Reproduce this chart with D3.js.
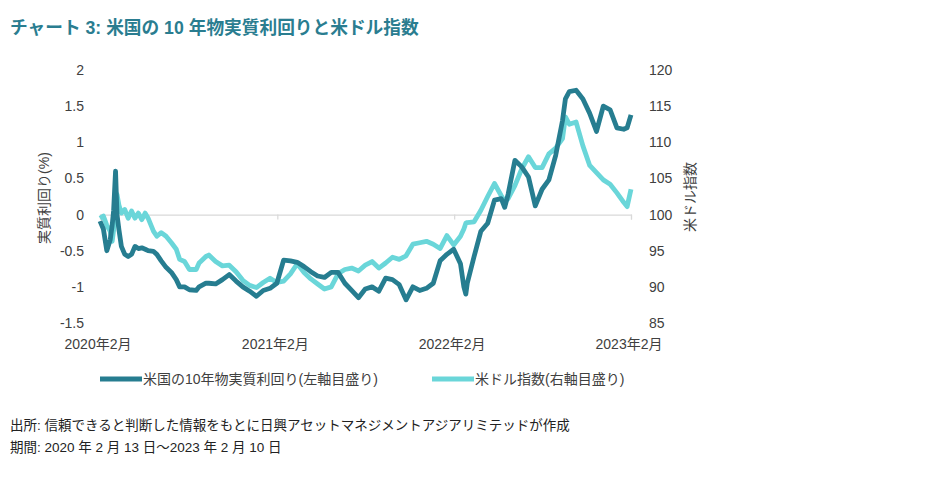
<!DOCTYPE html>
<html><head><meta charset="utf-8">
<script src="https://cdn.jsdelivr.net/npm/d3@7"></script>
<style>
body{margin:0;background:#fff;}
svg{display:block;font-family:"Liberation Sans",Arial,"Noto Sans CJK JP",sans-serif;}
</style></head>
<body>
<svg id="chart" width="940" height="490"></svg>
<script>
const dates = ["2020-02-13","2020-02-20","2020-02-27","2020-03-05","2020-03-09","2020-03-12","2020-03-16","2020-03-19","2020-03-23","2020-03-28","2020-04-04","2020-04-11","2020-04-18","2020-04-25","2020-05-02","2020-05-09","2020-05-16","2020-05-22","2020-06-02","2020-06-09","2020-06-18","2020-06-28","2020-07-09","2020-07-19","2020-07-26","2020-08-05","2020-08-15","2020-08-29","2020-09-04","2020-09-18","2020-09-24","2020-10-08","2020-10-22","2020-11-05","2020-11-19","2020-12-03","2020-12-17","2020-12-31","2021-01-14","2021-01-28","2021-02-11","2021-02-25","2021-03-11","2021-03-25","2021-04-08","2021-04-22","2021-05-06","2021-05-20","2021-06-03","2021-06-17","2021-07-01","2021-07-15","2021-07-29","2021-08-12","2021-08-26","2021-09-09","2021-09-23","2021-10-07","2021-10-21","2021-11-04","2021-11-18","2021-12-02","2021-12-16","2021-12-30","2022-01-13","2022-01-27","2022-02-10","2022-02-24","2022-03-03","2022-03-07","2022-03-10","2022-03-24","2022-04-07","2022-04-21","2022-05-05","2022-05-19","2022-05-26","2022-06-02","2022-06-16","2022-06-30","2022-07-14","2022-07-28","2022-08-11","2022-08-25","2022-09-08","2022-09-22","2022-09-28","2022-10-06","2022-10-20","2022-11-03","2022-11-17","2022-12-01","2022-12-15","2022-12-29","2023-01-12","2023-01-26","2023-02-02","2023-02-10"];
const realYield = [-0.09,-0.2,-0.5,-0.35,-0.15,0.05,0.6,0.0,-0.21,-0.44,-0.55,-0.58,-0.55,-0.44,-0.47,-0.46,-0.48,-0.5,-0.51,-0.55,-0.64,-0.73,-0.8,-0.9,-1.0,-1.0,-1.04,-1.05,-1.0,-0.95,-0.95,-0.96,-0.9,-0.83,-0.92,-1.0,-1.06,-1.13,-1.05,-1.02,-0.95,-0.63,-0.64,-0.66,-0.72,-0.79,-0.85,-0.87,-0.8,-0.8,-0.95,-1.05,-1.15,-1.03,-1.0,-1.06,-0.88,-0.9,-0.97,-1.18,-1.0,-1.05,-1.02,-0.95,-0.64,-0.55,-0.48,-0.68,-1.0,-1.1,-0.95,-0.58,-0.23,-0.12,0.2,0.22,0.1,0.28,0.75,0.66,0.52,0.12,0.35,0.48,0.82,1.3,1.6,1.7,1.72,1.6,1.4,1.15,1.5,1.45,1.2,1.18,1.2,1.38];
const dollarIndex = [99.5,99.8,98.5,97.7,96.3,97.8,101.0,102.8,101.3,100.2,100.7,99.5,100.5,99.5,100.2,99.3,100.2,99.5,97.7,97.0,97.5,97.0,96.1,95.2,93.8,93.5,92.4,92.4,93.3,94.2,94.4,93.5,92.9,93.0,92.1,90.9,90.2,89.9,90.6,91.2,90.6,90.8,91.8,93.2,92.0,91.1,90.4,89.7,90.0,91.8,92.4,92.6,92.2,93.0,93.5,92.6,93.3,94.1,93.8,94.3,95.9,96.1,96.3,95.9,95.3,97.1,95.8,97.0,98.0,98.8,98.9,99.0,100.6,102.5,104.3,102.6,101.8,102.2,104.0,106.3,108.0,106.5,106.5,108.4,109.2,110.5,113.5,112.5,112.8,109.5,106.8,105.8,104.8,104.2,103.0,101.7,101.1,103.5];
const xTickDates = ["2020-02-13","2021-02-12","2022-02-11","2023-02-10"];
const xTickLabels = ["2020年2月","2021年2月","2022年2月","2023年2月"];
const leftTicks = [-1.5,-1,-0.5,0,0.5,1,1.5,2];
const rightTicks = [85,90,95,100,105,110,115,120];
const seriesNames = ["米国の10年物実質利回り(左軸目盛り)","米ドル指数(右軸目盛り)"];
const colors = ["#267d90","#6ad6d9"];

const parse = d3.timeParse("%Y-%m-%d");
const D = dates.map(parse);
const svg = d3.select("#chart");

const x = d3.scaleTime().domain([parse("2020-02-13"), parse("2023-02-10")]).range([100, 631]);
const yL = d3.scaleLinear().domain([-1.5, 2]).range([323, 70]);
const yR = d3.scaleLinear().domain([85, 120]).range([323, 70]);

// title
svg.append("text").attr("x", 10).attr("y", 34)
  .attr("font-size", 17.7).attr("font-weight", "bold").attr("fill", "#2a7d90")
  .text("チャート 3: 米国の 10 年物実質利回りと米ドル指数");

// left axis
const gL = svg.append("g").attr("transform", "translate(92,0)")
  .call(d3.axisLeft(yL).tickValues(leftTicks).tickSize(0).tickPadding(8).tickFormat(d => String(d)));
gL.select(".domain").remove();
gL.selectAll("text").attr("font-size", 14).attr("fill", "#404040").attr("font-family", "Liberation Sans, Arial, sans-serif");

// right axis
const gR = svg.append("g").attr("transform", "translate(641,0)")
  .call(d3.axisRight(yR).tickValues(rightTicks).tickSize(0).tickPadding(8).tickFormat(d => String(d)));
gR.select(".domain").remove();
gR.selectAll("text").attr("font-size", 14).attr("fill", "#404040").attr("font-family", "Liberation Sans, Arial, sans-serif");

// x axis at zero
const gX = svg.append("g").attr("transform", `translate(0,${yL(0)})`)
  .call(d3.axisBottom(x).tickValues(xTickDates.map(parse)).tickSize(5).tickFormat(() => ""));
gX.select(".domain").attr("stroke", "#d9d9d9").attr("stroke-width", 1.2);
gX.selectAll(".tick line").attr("stroke", "#d9d9d9").attr("stroke-width", 1.2);

// x labels at bottom
svg.append("g").selectAll("text").data(xTickDates).join("text")
  .attr("x", d => x(parse(d)) - 2).attr("y", 349)
  .attr("text-anchor", "middle").attr("font-size", 14).attr("fill", "#404040")
  .text((d, i) => xTickLabels[i]);

// axis titles
svg.append("text").attr("transform", "translate(49,198) rotate(-90)")
  .attr("text-anchor", "middle").attr("font-size", 14).attr("fill", "#404040")
  .text("実質利回り(%)");
svg.append("text").attr("transform", "translate(695,197) rotate(-90)")
  .attr("text-anchor", "middle").attr("font-size", 14).attr("fill", "#404040")
  .text("米ドル指数");

// lines
const lineR = d3.line().x((d, i) => x(D[i])).y(d => yR(d)).curve(d3.curveLinear);
const lineL = d3.line().x((d, i) => x(D[i])).y(d => yL(d)).curve(d3.curveLinear);
svg.append("path").datum(dollarIndex).attr("d", lineR)
  .attr("fill", "none").attr("stroke", colors[1]).attr("stroke-width", 4.8).attr("stroke-linejoin", "round");
svg.append("path").datum(realYield).attr("d", lineL)
  .attr("fill", "none").attr("stroke", colors[0]).attr("stroke-width", 4.8).attr("stroke-linejoin", "round");

// legend
const legX = [100, 432];
const leg = svg.append("g");
seriesNames.forEach((n, i) => {
  leg.append("line").attr("x1", legX[i]).attr("x2", legX[i] + 42).attr("y1", 379).attr("y2", 379)
    .attr("stroke", colors[i]).attr("stroke-width", 5);
  leg.append("text").attr("x", legX[i] + 43).attr("y", 384).attr("font-size", 14).attr("fill", "#404040").text(n);
});

// footer
svg.append("text").attr("x", 10).attr("y", 430).attr("font-size", 13.5).attr("fill", "#222")
  .text("出所: 信頼できると判断した情報をもとに日興アセットマネジメントアジアリミテッドが作成");
svg.append("text").attr("x", 10).attr("y", 452).attr("font-size", 13.5).attr("fill", "#222")
  .text("期間: 2020 年 2 月 13 日～2023 年 2 月 10 日");
</script>
</body></html>
